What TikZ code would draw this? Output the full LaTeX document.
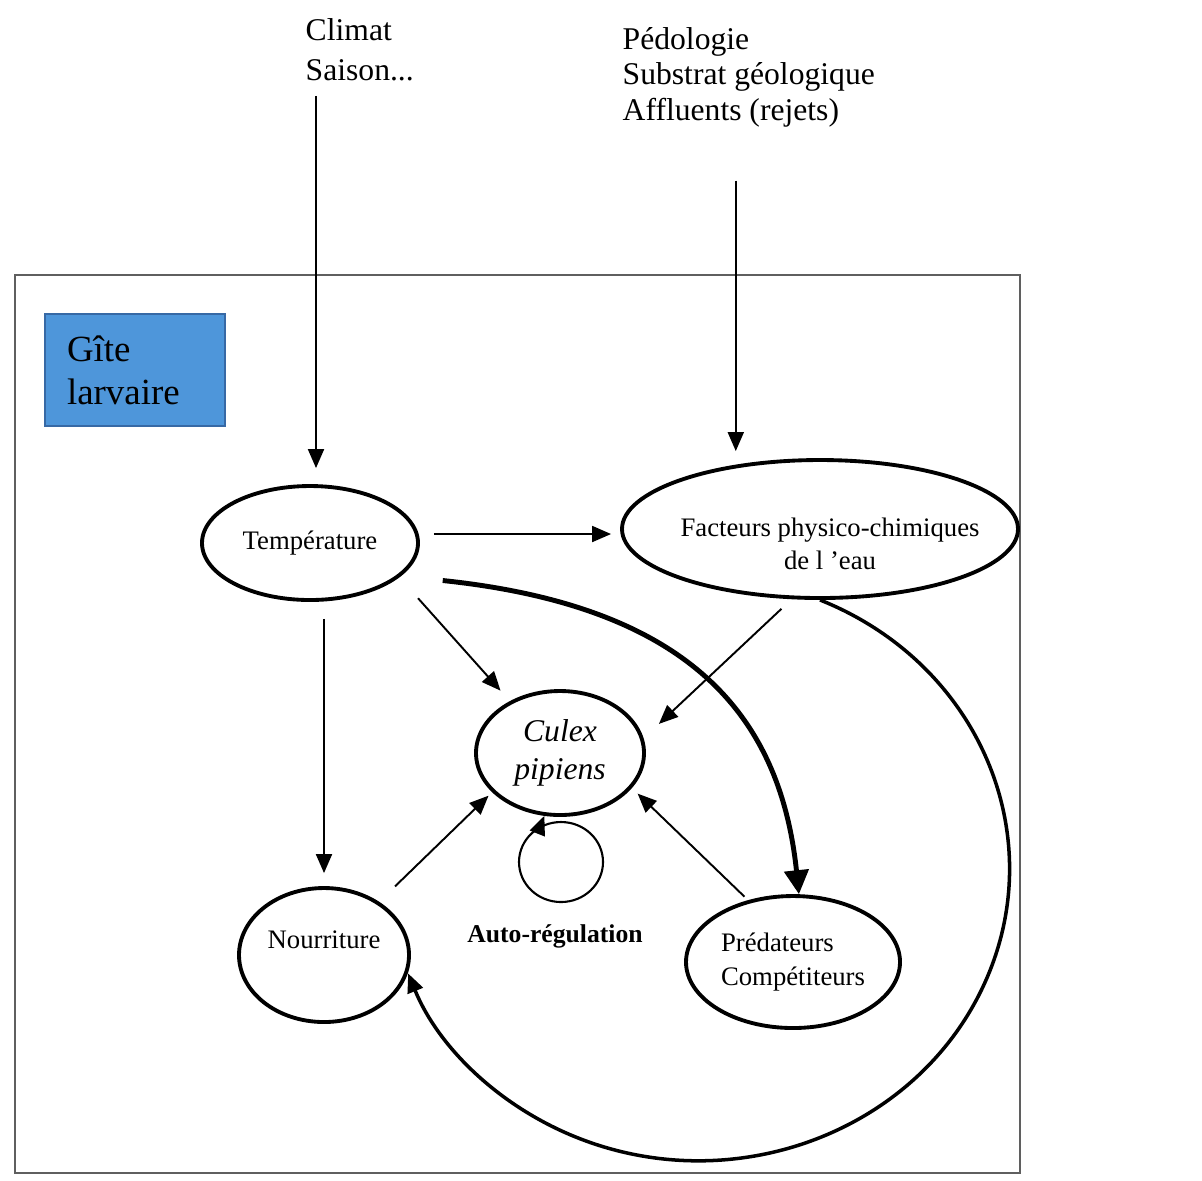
\documentclass[tikz,border=0pt]{standalone}
\usepackage{fontspec}
\setmainfont{Liberation Serif}
\usetikzlibrary{arrows.meta,shapes.geometric}

\definecolor{bleugite}{RGB}{78,150,218}
\definecolor{bordgite}{RGB}{55,105,165}
\definecolor{cadre}{RGB}{95,95,95}

\tikzset{
	bulle/.style={ellipse, draw, line width=1.1pt, inner sep=0pt, align=center, font=\fontsize{7.6}{9.5}\selectfont},
	textebulle/.style={align=center, font=\fontsize{7.6}{9.5}\selectfont},
	fleche/.style={-{Triangle[length=1.9mm,width=1.6mm]}, line width=0.55pt},
	grossefleche/.style={-{Triangle[length=2.4mm,width=2.4mm]}, line width=1.4pt},
	legende/.style={align=left, inner sep=0pt},
	gite/.style={rectangle, fill=bleugite, draw=bordgite, line width=0.6pt, minimum height=1.12cm, text width=1.36cm, inner xsep=0.22cm, align=left, font=\fontsize{10.5}{12.2}\selectfont}
}

\begin{document}
\begin{tikzpicture}
		%%%%% START %%%%%
		\useasboundingbox (0,0) rectangle (12.02,-11.80);
		
		\draw[cadre, line width=0.5pt] (0.15,-2.75) rectangle (10.20,-11.73);
		
		\node[legende, anchor=west, font=\fontsize{9}{11.3}\selectfont] (climat) at (3.05,-0.50) {Climat\\Saison...};
		\node[legende, anchor=west, font=\fontsize{9}{10.1}\selectfont] (pedologie) at (6.22,-0.77) {Pédologie\\Substrat géologique\\Affluents (rejets)};
		
		\node[gite] (gite) at (1.35,-3.70) {Gîte\\larvaire};
		
		\node[bulle, minimum width=2.16cm, minimum height=1.14cm] (temperature) at (3.10,-5.43) {Température};
		\node[bulle, minimum width=3.96cm, minimum height=1.38cm,
			label={[textebulle, xshift=1mm, yshift=-1.5mm]center:Facteurs physico-chimiques\\de l ’eau}] (facteurs) at (8.20,-5.29) {};
		\node[bulle, minimum width=1.68cm, minimum height=1.24cm, font=\fontsize{9}{10.8}\selectfont\itshape] (culex) at (5.60,-7.53) {Culex\\pipiens};
		\node[bulle, minimum width=1.70cm, minimum height=1.34cm,
			label={[textebulle, yshift=1.5mm]center:Nourriture}] (nourriture) at (3.24,-9.55) {};
		\node[bulle, minimum width=2.14cm, minimum height=1.32cm, align=left] (predateurs) at (7.93,-9.62) {Prédateurs\\Compétiteurs};
		
		\node[ellipse, draw, line width=0.6pt, minimum width=0.84cm, minimum height=0.80cm, inner sep=0pt] (regul) at (5.61,-8.62) {};
		\node[font=\fontsize{7.3}{9}\selectfont\bfseries] (autoreg) at (5.55,-9.36) {Auto-régulation};
		
		\draw[fleche, shorten <=1.4mm, shorten >=1.6mm] ([xshift=0.6mm]temperature.north |- climat.south) -- ([xshift=0.6mm]temperature.north);
		\draw[fleche, shorten <=5.3mm, shorten >=0.7mm] ([xshift=-1.3mm]pedologie.south) -- ([xshift=-1.3mm]pedologie.south |- facteurs.north);
		
		\draw[fleche, shorten <=1.4mm, shorten >=0.9mm] ([yshift=-0.5mm]temperature.east |- facteurs.west) -- ([yshift=-0.5mm]facteurs.west);
		\draw[fleche, shorten <=2.8mm, shorten >=1.4mm] (temperature.-21) -- (culex.134);
		\draw[fleche, shorten <=1.7mm, shorten >=1.3mm] (nourriture.north |- temperature.south) -- (nourriture.north);
		\draw[fleche, shorten <=1.4mm, shorten >=2.1mm] (facteurs.-112) -- (culex.10);
		\draw[fleche, shorten <=2.2mm, shorten >=0.5mm] (nourriture.44) -- (culex.210);
		\draw[fleche, shorten <=0.5mm, shorten >=0.8mm] (predateurs.126) -- (culex.-26);
		\draw[fleche] (regul.120) -- (culex.-104);
		
		\draw[grossefleche, shorten <=4.2mm] (temperature.-20) .. controls +(-6:2.9) and +(96:1.8) .. (predateurs.85);
		\draw[fleche, line width=1.0pt] (facteurs.south) arc[start angle=67, end angle=-159, x radius=3.11cm, y radius=2.92cm];
		
		%%%%% END %%%%%
\end{tikzpicture}
\end{document}
